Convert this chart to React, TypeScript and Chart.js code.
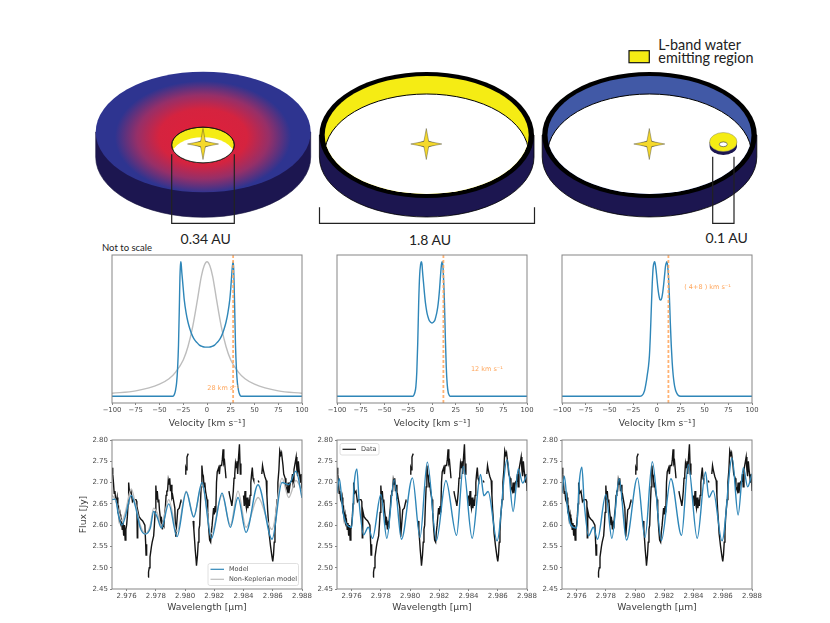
// Disc sketches on top, velocity profiles and L-band spectra below
import React, { useEffect, useRef } from 'react';
import Chart from 'chart.js/auto';

const velocityTicks = [-100, -75, -50, -25, 0, 25, 50, 75, 100];
const wavelengthTicks = [2.976, 2.978, 2.98, 2.982, 2.984, 2.986, 2.988];
const fluxTicks = [2.45, 2.5, 2.55, 2.6, 2.65, 2.7, 2.75, 2.8];

// line profiles
const innerVelocity = [-100, -36, -35, -34, -33, -32, -31, -30, -29, -28.5, -28, -27.5, -27, -26.5, -26, -25, -24, -22, -20, -18, -16, -14, -12, -10, -8, -5, -2, 0, 2, 5, 8, 10, 12, 14, 16, 18, 20, 22, 24, 25, 26, 26.5, 27, 27.5, 28, 28.5, 29, 30, 31, 32, 33, 34, 35, 36, 100];
const innerProfile = [0, 0, 0.005, 0.02, 0.05, 0.1, 0.2, 0.38, 0.7, 0.88, 0.97, 1, 0.97, 0.92, 0.88, 0.8, 0.72, 0.62, 0.55, 0.5, 0.46, 0.43, 0.41, 0.395, 0.38, 0.37, 0.365, 0.365, 0.365, 0.37, 0.38, 0.395, 0.41, 0.43, 0.46, 0.5, 0.55, 0.62, 0.72, 0.8, 0.9, 0.95, 0.98, 1, 0.96, 0.85, 0.7, 0.38, 0.2, 0.1, 0.05, 0.02, 0.005, 0, 0];
const greyVelocity = [-100, -75, -50, -40, -33, -25, -20, -15, -10, -6, -3, 0, 3, 6, 10, 15, 20, 25, 33, 40, 50, 75, 100];
const greyProfile = [0.022, 0.04, 0.09, 0.13, 0.18, 0.27, 0.37, 0.52, 0.72, 0.89, 0.97, 1, 0.97, 0.89, 0.72, 0.52, 0.37, 0.27, 0.18, 0.13, 0.09, 0.04, 0.022];
const ringVelocity = [-100, -20, -19, -18, -17, -16, -15, -14, -13, -12, -11.2, -10.5, -10, -9, -8, -7, -6, -5, -4, -3, -2, -1, 0, 1, 2, 3, 4, 5, 6, 7, 8, 9, 10, 10.7, 11.5, 12, 13, 14, 15, 16, 17, 18, 19, 100];
const ringProfile = [0, 0, 0.01, 0.03, 0.07, 0.18, 0.4, 0.7, 0.9, 0.98, 1, 0.98, 0.93, 0.85, 0.77, 0.7, 0.65, 0.61, 0.585, 0.565, 0.555, 0.548, 0.545, 0.548, 0.555, 0.565, 0.59, 0.62, 0.66, 0.72, 0.8, 0.9, 0.98, 1, 0.97, 0.9, 0.72, 0.45, 0.22, 0.09, 0.03, 0.01, 0, 0];
const planetVelocity = [-100, -18, -16, -15, -14, -13, -12, -11, -10, -9, -8, -7, -6, -5, -4, -3, -2.5, -2, -1, 0, 1, 2, 3, 3.9, 5, 6, 7, 8, 9, 10, 10.5, 11, 12, 13, 14, 15, 16, 17, 18, 19, 20, 22, 25, 100];
const planetProfile = [0, 0, 0.005, 0.012, 0.025, 0.045, 0.08, 0.12, 0.17, 0.22, 0.3, 0.45, 0.65, 0.84, 0.96, 0.995, 1, 0.99, 0.94, 0.87, 0.8, 0.75, 0.72, 0.715, 0.73, 0.77, 0.83, 0.9, 0.97, 0.995, 1, 0.98, 0.9, 0.75, 0.55, 0.38, 0.25, 0.16, 0.1, 0.06, 0.035, 0.01, 0, 0];

// observed spectrum, null marks the gaps
const dataWavelength = [
  2.975, 2.97505, 2.9751, 2.97515, 2.9752, 2.97525, 2.9753, 2.97535, 2.9754, 2.97545, 2.9755, 2.97555, 2.9756, 2.97565, 2.9757, 2.97575, 2.9758, 2.97585, 2.9759, 2.97595, 2.976, 2.97605, 2.9761, 2.97614,
  2.9762, 2.9763, 2.9764, 2.9765, 2.97664, 2.9767, 2.97673, 2.97676, 2.97685, 2.97695, 2.9771, 2.97725, 2.9773, 2.97733, 2.97737, 2.9774,
  2.97747, 2.9775, 2.97755, 2.9776, 2.9777, 2.97775, 2.97785, 2.9779, 2.97795, 2.978, 2.97805, 2.9781, 2.97815, 2.9782, 2.97825, 2.9783, 2.97835, 2.9784, 2.97845, 2.9785, 2.97855,
  2.9786, 2.97865, 2.9787, 2.97875, 2.9788, 2.97885, 2.9789, 2.97895, 2.979, 2.97905, 2.9791, 2.97915, 2.9793, 2.97936, 2.97942, 2.9795, 2.9796, 2.9797, 2.97972, 2.97975,
  2.98, 2.98005, 2.9801, 2.98013, 2.98018, 2.98022, 2.98025,
  2.98055, 2.9806, 2.98065, 2.9807, 2.98075, 2.98078, 2.98085, 2.9809, 2.98095, 2.981, 2.98105, 2.9811, 2.98115, 2.9812, 2.98125, 2.9813, 2.98135, 2.9814, 2.9815, 2.98155, 2.98162, 2.98168, 2.98175, 2.9818, 2.98185, 2.98195, 2.982, 2.98205, 2.9821, 2.98215, 2.9822, 2.9823, 2.98235, 2.9824, 2.9825, 2.98255, 2.9826, 2.98265, 2.9827, 2.98275, 2.9828, 2.98283,
  2.983, 2.98305, 2.98315, 2.9832, 2.98325, 2.9833, 2.98335, 2.9834, 2.98345, 2.9835, 2.98355, 2.9836, 2.98365, 2.98372, 2.98378, 2.98382, 2.98385,
  2.984, 2.98405, 2.9841, 2.98415, 2.9842, 2.98425, 2.9843, 2.98435, 2.9844, 2.98445, 2.9845, 2.98455, 2.9846, 2.98465, 2.9847, 2.98472,
  2.985, 2.98506, 2.98508,
  2.98525, 2.9853, 2.98535, 2.98545, 2.98555, 2.9856, 2.98565, 2.9857, 2.98575, 2.98585, 2.98595, 2.986, 2.98605, 2.9861, 2.98615, 2.9862, 2.9863, 2.98635, 2.98642, 2.98648, 2.98655, 2.9866, 2.9867, 2.98675, 2.98685, 2.9869, 2.987, 2.98705, 2.9871, 2.9872, 2.9873, 2.98735, 2.9874, 2.98745, 2.98755, 2.9876, 2.98765, 2.9877, 2.98775, 2.9878, 2.9879, 2.98795, 2.988,
];
const dataFlux = [
  2.735, 2.72, 2.7, 2.675, 2.68, 2.66, 2.655, 2.665, 2.635, 2.64, 2.615, 2.625, 2.605, 2.61, 2.59, 2.605, 2.575, 2.6, 2.565, 2.59, 2.6, 2.62, 2.65, 2.7,
  2.675, 2.68, 2.655, 2.66, 2.66, 2.655, 2.57, 2.635, 2.62, 2.615, 2.61, 2.6, 2.56, 2.53, 2.555, null,
  2.478, 2.49, 2.5, 2.525, 2.55, 2.56, 2.575, 2.6, 2.63, 2.693, 2.66, 2.68, 2.655, 2.66, 2.635, 2.62, 2.6, 2.61, 2.59, 2.605, 2.6,
  2.625, 2.64, 2.67, 2.68, 2.68, 2.705, 2.695, 2.71, 2.68, 2.695, 2.665, 2.67, 2.64, 2.573, 2.6, 2.636, 2.64, 2.655, 2.66, null,
  2.72, 2.735, 2.73, 2.76, 2.765, 2.768, null,
  2.61, 2.59, 2.565, 2.54, 2.52, 2.505, 2.53, 2.56, 2.59, 2.6, 2.65, 2.69, 2.74, 2.72, 2.715, 2.69, 2.7, 2.68, 2.66, 2.63, 2.59, 2.565, 2.56, 2.585, 2.6, 2.64, 2.625, 2.645, 2.63, 2.7, 2.725, 2.735, 2.72, 2.74, 2.74, 2.755, 2.778, 2.745, 2.75, 2.73, 2.71, null,
  2.68, 2.67, 2.655, 2.645, 2.66, 2.68, 2.71, 2.72, 2.745, 2.735, 2.75, 2.72, 2.755, 2.79, 2.72, 2.745, null,
  2.67, 2.645, 2.68, 2.65, 2.64, 2.665, 2.64, 2.66, 2.645, 2.67, 2.7, 2.72, 2.735, 2.71, 2.705, null,
  2.705, 2.7, null,
  2.72, 2.74, 2.73, 2.715, 2.705, 2.67, 2.635, 2.61, 2.58, 2.55, 2.525, 2.515, 2.53, 2.56, 2.585, 2.62, 2.66, 2.7, 2.73, 2.775, 2.765, 2.77, 2.74, 2.72, 2.71, 2.69, 2.68, 2.7, 2.675, 2.7, 2.705, 2.72, 2.69, 2.73, 2.75, 2.76, 2.73, 2.715, 2.75, 2.73, 2.7, 2.72, 2.68,
];

// models, one per column of the bottom row
const modelAWavelength = [2.975, 2.97523, 2.97546, 2.97568, 2.97591, 2.97632, 2.9766, 2.97694, 2.97728, 2.97762, 2.97785, 2.97808, 2.97838, 2.97888, 2.97945, 2.98008, 2.98059, 2.98116, 2.9818, 2.98253, 2.9831, 2.98362, 2.98417, 2.98499, 2.98595, 2.98663, 2.98709, 2.98759, 2.988];
const modelAFlux = [2.66, 2.661, 2.62, 2.6, 2.62, 2.67, 2.644, 2.593, 2.579, 2.593, 2.632, 2.62, 2.593, 2.65, 2.573, 2.678, 2.619, 2.7, 2.569, 2.675, 2.595, 2.665, 2.583, 2.695, 2.567, 2.7, 2.695, 2.727, 2.664];
const greyAFlux = [2.67, 2.66, 2.63, 2.61, 2.63, 2.685, 2.65, 2.6, 2.58, 2.6, 2.64, 2.63, 2.6, 2.66, 2.585, 2.68, 2.62, 2.695, 2.58, 2.67, 2.6, 2.68, 2.595, 2.665, 2.59, 2.71, 2.665, 2.705, 2.68];
const modelBWavelength = [2.975, 2.97516, 2.97539, 2.97561, 2.976, 2.97618, 2.97636, 2.97652, 2.97682, 2.97714, 2.97743, 2.978, 2.97841, 2.97891, 2.97941, 2.98016, 2.98068, 2.98118, 2.9818, 2.98245, 2.98318, 2.98364, 2.98425, 2.98482, 2.98505, 2.98534, 2.98595, 2.98664, 2.98705, 2.98741, 2.9877, 2.988];
const modelBFlux = [2.675, 2.709, 2.636, 2.605, 2.595, 2.7, 2.732, 2.652, 2.577, 2.595, 2.569, 2.672, 2.569, 2.707, 2.567, 2.711, 2.571, 2.748, 2.564, 2.705, 2.576, 2.738, 2.569, 2.719, 2.669, 2.679, 2.563, 2.754, 2.632, 2.732, 2.699, 2.719];
const modelCFlux = [2.675, 2.715, 2.636, 2.6, 2.593, 2.7, 2.736, 2.652, 2.575, 2.595, 2.567, 2.672, 2.569, 2.709, 2.565, 2.711, 2.571, 2.749, 2.564, 2.709, 2.576, 2.742, 2.569, 2.725, 2.665, 2.681, 2.563, 2.758, 2.624, 2.735, 2.69, 2.721];

const BLUE = '#2e86b8';
const GREY = '#bdbdbd';
const ORANGE = 'rgba(255,165,90,0.85)';
const SPINE = '#858585';
const TICK_TEXT = '#4a4a4a';
const LABEL_TEXT = '#3c3c3c';
const MPL_FONT = '"DejaVu Sans"';

const toPoints = (xs: number[], ys: (number | null)[]) => xs.map((x, i) => ({ x, y: ys[i] }));
const minus = (s: string) => s.replace('-', '\u2212');

const modelLine = (label: string | undefined, xs: number[], ys: number[], color: string, order: number, width = 1.4) => ({
  label,
  data: toPoints(xs, ys),
  borderColor: color,
  borderWidth: width,
  pointRadius: 0,
  cubicInterpolationMode: 'monotone',
  order,
});

const dataLine = (label?: string) => ({
  label,
  data: toPoints(dataWavelength, dataFlux),
  borderColor: '#141414',
  borderWidth: 1.4,
  pointRadius: 0,
  tension: 0,
  spanGaps: false,
  order: 5,
});

const cutLine = (v: number) => ({
  data: [{ x: v, y: -0.05 }, { x: v, y: 1.05 }],
  borderColor: ORANGE,
  borderWidth: 1.8,
  borderDash: [3, 2],
  pointRadius: 0,
  order: 0,
});

// spines, orange note and the small boxed legend
const extras = (note?: { text: string; x: number; y: number }, legendBox?: { dx: number; dy: number; w: number; h: number }) => ({
  id: 'extras',
  afterDatasetsDraw(chart: any) {
    const { ctx, chartArea: a, scales } = chart;
    ctx.save();
    ctx.strokeStyle = SPINE;
    ctx.lineWidth = 1;
    ctx.strokeRect(a.left, a.top, a.right - a.left, a.bottom - a.top);
    if (note) {
      ctx.font = `6.5px ${MPL_FONT}`;
      ctx.fillStyle = 'rgba(255,165,90,1)';
      ctx.textBaseline = 'middle';
      ctx.fillText(note.text, scales.x.getPixelForValue(note.x), scales.y.getPixelForValue(note.y));
    }
    if (legendBox) {
      const x0 = a.left + legendBox.dx;
      const y0 = a.top + legendBox.dy;
      ctx.beginPath();
      ctx.roundRect(x0, y0, legendBox.w, legendBox.h, 2);
      ctx.fillStyle = 'rgba(255,255,255,0.85)';
      ctx.fill();
      ctx.strokeStyle = '#d8d8d8';
      ctx.lineWidth = 0.8;
      ctx.stroke();
      const items = chart.data.datasets.filter((d: any) => d.label);
      items.forEach((d: any, i: number) => {
        const y = y0 + 5.8 + i * 10;
        ctx.beginPath();
        ctx.moveTo(x0 + 2.5, y);
        ctx.lineTo(x0 + 16, y);
        ctx.strokeStyle = d.borderColor;
        ctx.lineWidth = 1.2;
        ctx.stroke();
        ctx.font = `6.5px ${MPL_FONT}`;
        ctx.fillStyle = TICK_TEXT;
        ctx.textBaseline = 'middle';
        ctx.fillText(d.label, x0 + 21, y);
      });
    }
    ctx.restore();
  },
});

const axisText = (size: number) => ({ family: MPL_FONT, size });

const tickGrid = { display: true, drawOnChartArea: false, drawTicks: true, tickLength: 2, tickColor: SPINE };

type PanelProps = {
  left: number;
  top: number;
  datasets: any[];
  kind: 'velocity' | 'spectrum';
  showFluxTitle?: boolean;
  note?: { text: string; x: number; y: number };
  legendBox?: { dx: number; dy: number; w: number; h: number };
};

const Panel: React.FC<PanelProps> = ({ left, top, datasets, kind, showFluxTitle, note, legendBox }) => {
  const canvasRef = useRef<HTMLCanvasElement>(null);
  const L = kind === 'velocity' ? 24 : 36;
  const R = 18;
  const T = 8;
  const B = kind === 'velocity' ? 28 : 26;
  const plotH = kind === 'velocity' ? 148 : 149;
  const width = L + 190 + R;
  const height = T + plotH + B;

  useEffect(() => {
    const isVel = kind === 'velocity';
    const chart = new Chart(canvasRef.current!, {
      type: 'line',
      data: { datasets },
      plugins: [extras(note, legendBox)],
      options: {
        animation: false,
        responsive: false,
        devicePixelRatio: 1,
        layout: { padding: { top: T, right: R, left: 0, bottom: 0 } },
        plugins: { legend: { display: false }, tooltip: { enabled: false } },
        scales: {
          x: {
            type: 'linear',
            min: isVel ? -100 : 2.975,
            max: isVel ? 100 : 2.988,
            afterBuildTicks: (s: any) => {
              s.ticks = (isVel ? velocityTicks : wavelengthTicks).map((value) => ({ value }));
            },
            afterFit: (s: any) => {
              s.height = B;
            },
            grid: tickGrid,
            border: { display: false },
            ticks: {
              color: TICK_TEXT,
              font: axisText(isVel ? 6.8 : 7),
              padding: 1,
              maxRotation: 0,
              autoSkip: false,
              callback: (v: any) => (isVel ? minus(String(v)) : Number(v).toFixed(3)),
            },
            title: {
              display: true,
              text: isVel ? 'Velocity [km s\u207B\u00B9]' : 'Wavelength [\u03BCm]',
              color: LABEL_TEXT,
              font: axisText(9.2),
              padding: { top: 0, bottom: 2 },
            },
          },
          y: {
            type: 'linear',
            min: isVel ? -0.05 : 2.45,
            max: isVel ? 1.05 : 2.8,
            afterBuildTicks: (s: any) => {
              s.ticks = (isVel ? [] : fluxTicks).map((value) => ({ value }));
            },
            afterFit: (s: any) => {
              s.width = L;
            },
            grid: isVel ? { display: false } : tickGrid,
            border: { display: false },
            ticks: {
              display: !isVel,
              color: TICK_TEXT,
              font: axisText(7),
              padding: 2,
              autoSkip: false,
              callback: (v: any) => Number(v).toFixed(2),
            },
            title: {
              display: !!showFluxTitle,
              text: 'Flux [Jy]',
              color: LABEL_TEXT,
              font: axisText(9.2),
              padding: { top: 2, bottom: 0 },
            },
          },
        },
      } as any,
    });
    return () => chart.destroy();
  }, []);

  return (
    <canvas
      ref={canvasRef}
      width={width}
      height={height}
      style={{ position: 'absolute', left: left - L, top: top - T, width, height }}
    />
  );
};

const Star: React.FC<{ cx: number; cy: number }> = ({ cx, cy }) => (
  <g transform={`translate(${cx},${cy})`}>
    <path d="M-11,0 L-2,-3.5 L2,-3.5 L11,0 L2,3.5 L-2,3.5 Z" fill="#7e7e7e" />
    <path
      d="M0,-15.5 L2.4,-2.6 L15.5,0 L2.4,2.6 L0,15.5 L-2.4,2.6 L-15.5,0 L-2.4,-2.6 Z"
      fill="#f5d92b"
      stroke="#3a3a2a"
      strokeWidth={0.4}
    />
  </g>
);

const sidePath = (cx: number, rx: number, yTop: number, yBottom: number, ry: number) =>
  `M${cx - rx},${yTop} V${yBottom} A${rx},${ry} 0 0 0 ${cx + rx},${yBottom} V${yTop} Z`;

const RingDisc: React.FC<{ cx: number; wall: string; id: string }> = ({ cx, wall, id }) => (
  <g>
    <path d={sidePath(cx, 107.3, 135, 157, 60)} fill="#1c1650" stroke="#000" strokeWidth={0.8} />
    <ellipse cx={cx} cy={135} rx={107.3} ry={63} fill="#000" />
    <clipPath id={id}>
      <ellipse cx={cx} cy={135} rx={102} ry={59} />
    </clipPath>
    <ellipse cx={cx} cy={135} rx={102} ry={59} fill={wall} />
    <ellipse cx={cx} cy={154} rx={102} ry={60} fill="#fff" stroke="#000" strokeWidth={1} clipPath={`url(#${id})`} />
  </g>
);

const Sketch: React.FC = () => (
  <svg width={830} height={623} style={{ position: 'absolute', left: 0, top: 0 }}>
    <defs>
      <radialGradient
        id="discGlow"
        gradientUnits="userSpaceOnUse"
        cx={0}
        cy={0}
        r={1}
        gradientTransform="translate(203 137) scale(88 56)"
      >
        <stop offset="0" stopColor="#e01f3a" />
        <stop offset="0.5" stopColor="#d5233f" />
        <stop offset="0.75" stopColor="#962f68" />
        <stop offset="1" stopColor="#2e3490" />
      </radialGradient>
      <clipPath id="holeClip">
        <ellipse cx={203} cy={145} rx={31.3} ry={17.8} />
      </clipPath>
    </defs>

    {/* inner disc */}
    <path d={sidePath(203.2, 107.5, 132, 157, 60.3)} fill="#1c1650" stroke="#15123c" strokeWidth={0.6} />
    <ellipse cx={203.2} cy={132} rx={107.5} ry={60.3} fill="url(#discGlow)" />
    <ellipse cx={203} cy={145} rx={31.3} ry={17.8} fill="#f5ec14" stroke="#111" strokeWidth={0.8} />
    <ellipse cx={203} cy={155} rx={31.3} ry={17.8} fill="#fff" clipPath="url(#holeClip)" />
    <ellipse cx={203} cy={145} rx={31.3} ry={17.8} fill="none" stroke="#111" strokeWidth={0.8} />
    <Star cx={203} cy={144} />

    <RingDisc cx={426.7} wall="#f5ec14" id="ringA" />
    <Star cx={426.3} cy={144} />
    <RingDisc cx={649.5} wall="#4159a6" id="ringB" />
    <Star cx={649.3} cy={144} />

    {/* planet with its own little disc */}
    <path d={sidePath(723.3, 13.7, 142, 146, 9)} fill="#1c1650" />
    <ellipse cx={723.3} cy={142} rx={13.7} ry={9.5} fill="#f5ec14" stroke="#8a8a70" strokeWidth={0.5} />
    <ellipse cx={723.3} cy={144.3} rx={4} ry={2.4} fill="#fff" stroke="#333" strokeWidth={0.6} />

    {/* size brackets */}
    <g fill="none" stroke="#222" strokeWidth={1.2}>
      <path d="M171.7,154.3 V223.3 H234.3 V154.3" />
      <path d="M319.5,207.3 V223.3 H534.5 V207.3" />
      <path d="M712.7,156.7 V223.3 H734 V156.7" />
    </g>

    <g fontFamily="Lato" fill="#222" textAnchor="middle">
      <text x={205.7} y={243.5} fontSize={14}>0.34 AU</text>
      <text x={430} y={245} fontSize={14}>1.8 AU</text>
      <text x={726.7} y={242.5} fontSize={14}>0.1 AU</text>
    </g>
    <text x={102} y={250.5} fontFamily="Lato" fontSize={9.5} fill="#222">Not to scale</text>

    <rect x={629} y={50.7} width={20.3} height={12} fill="#f5ec14" stroke="#111" strokeWidth={1.2} />
    <g fontFamily="Lato" fontSize={14.4} fill="#222">
      <text x={658.3} y={49.5}>L-band water</text>
      <text x={658.3} y={62.7}>emitting region</text>
    </g>
  </svg>
);

export default function App() {
  return (
    <div style={{ position: 'absolute', left: 0, top: 0, width: 830, height: 623, background: '#fff', overflow: 'hidden', filter: 'blur(0.35px)' }}>
      <Sketch />

      <Panel
        left={112}
        top={255}
        kind="velocity"
        note={{ text: '28 km s\u207B\u00B9', x: 0.3, y: 0.06 }}
        datasets={[
          modelLine(undefined, greyVelocity, greyProfile, GREY, 3),
          modelLine(undefined, innerVelocity, innerProfile, BLUE, 2),
          cutLine(27.5),
        ]}
      />
      <Panel
        left={337}
        top={255}
        kind="velocity"
        note={{ text: '12 km s\u207B\u00B9', x: 41, y: 0.2 }}
        datasets={[modelLine(undefined, ringVelocity, ringProfile, BLUE, 2), cutLine(12)]}
      />
      <Panel
        left={562}
        top={255}
        kind="velocity"
        note={{ text: '( 4+8 ) km s\u207B\u00B9', x: 28.7, y: 0.81 }}
        datasets={[modelLine(undefined, planetVelocity, planetProfile, BLUE, 2), cutLine(12)]}
      />

      <Panel
        left={112}
        top={440}
        kind="spectrum"
        showFluxTitle
        legendBox={{ dx: 96, dy: 123.5, w: 90.5, h: 22 }}
        datasets={[
          dataLine(),
          modelLine('Model', modelAWavelength, modelAFlux, BLUE, 1),
          modelLine('Non-Keplerian model', modelAWavelength, greyAFlux, GREY, 2),
        ]}
      />
      <Panel
        left={337}
        top={440}
        kind="spectrum"
        legendBox={{ dx: 3, dy: 3.5, w: 39, h: 11.5 }}
        datasets={[dataLine('Data'), modelLine(undefined, modelBWavelength, modelBFlux, BLUE, 1)]}
      />
      <Panel
        left={562}
        top={440}
        kind="spectrum"
        datasets={[dataLine(), modelLine(undefined, modelBWavelength, modelCFlux, BLUE, 1)]}
      />
    </div>
  );
}
